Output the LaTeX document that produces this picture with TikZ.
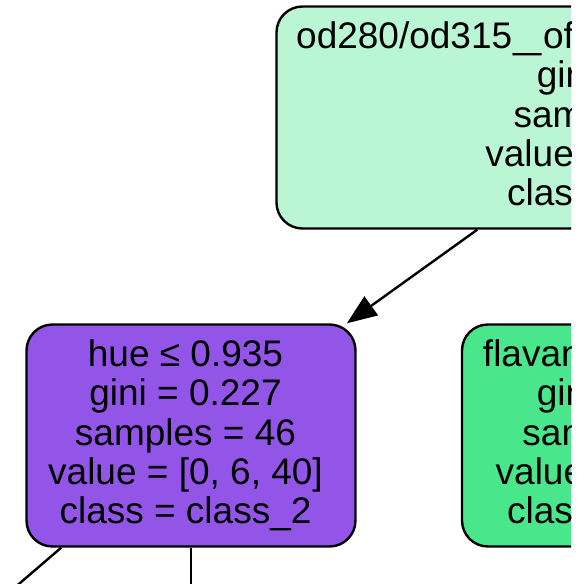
\documentclass[tikz,border=0pt]{standalone}
\usepackage{fontspec}
\usepackage{graphicx}
\setmainfont{Liberation Sans}
\usetikzlibrary{arrows.meta}
\definecolor{rootfill}{RGB}{186,245,212}
\definecolor{purplefill}{RGB}{146,85,232}
\definecolor{greenfill}{RGB}{73,230,139}
% wide underscore used in the long feature name
\newcommand\uscore{\kern1pt\scalebox{1.35}[1]{\_}\kern2pt\relax}
\tikzset{
  treebox/.style={draw=black, line width=2.4pt, rounded corners=26pt,
    inner sep=0pt, minimum height=222pt},
  treelabel/.style={align=center, inner sep=0pt,
    font=\fontsize{37}{39.3}\selectfont},
  treeedge/.style={draw=black, line width=2.4pt, -{Triangle[length=30pt,width=23pt]}}
}
\begin{document}
\begin{tikzpicture}[x=1pt,y=-1pt]
\useasboundingbox (0,0) rectangle (587,584);
\clip (0,0) rectangle (571,584);
% split nodes: box, then its text
\node[treebox, fill=rootfill, minimum width=713pt] (root) at (633,117.5) {};
\node[treelabel] (roottext) at (633,117.5)
  {od280/od315\uscore of\uscore diluted\uscore wines ≤ 2.115\\gini = 0.497\\samples = 113\\value = [2, 67, 44]\\class = class\_1};
\node[treebox, fill=purplefill, minimum width=329pt] (left) at (191,435.5) {};
\node[treelabel] (lefttext) at (185.5,435.5)
  {hue ≤ 0.935\\gini = 0.227\\samples = 46\\value = [0, 6, 40]\\class = class\_2};
\node[treebox, fill=greenfill, minimum width=342pt] (right) at (633,435.5) {};
\node[treelabel] (righttext) at (633,435.5)
  {flavanoids ≤ 1.575\\gini = 0.167\\samples = 67\\value = [2, 61, 4]\\class = class\_1};
% children of the hue split, below the frame
\coordinate (leftleaf) at (-179,754);
\coordinate (leftmid) at (191,754);
% connectors
\draw[treeedge] (root) -- (left);
\draw[treeedge] (left) -- (leftleaf);
\draw[treeedge] (left) -- (leftmid);
\end{tikzpicture}
\end{document}
